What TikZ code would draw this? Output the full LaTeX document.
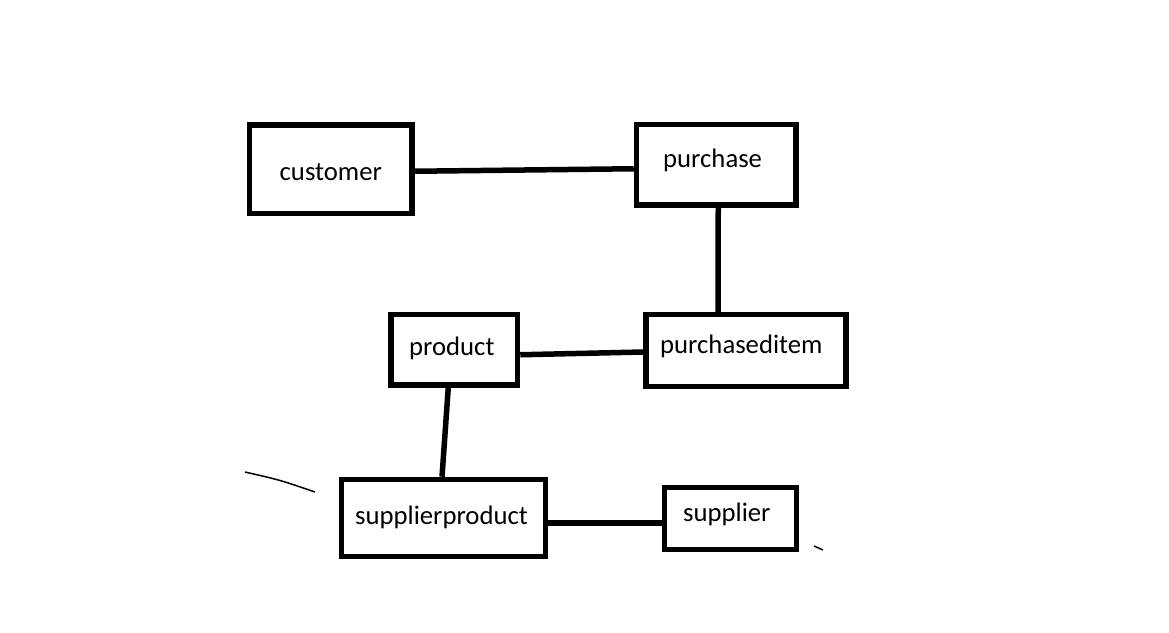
\documentclass[tikz,border=0pt]{standalone}
\usepackage{fontspec}
\setmainfont{Carlito}
\usetikzlibrary{positioning}

\begin{document}
\begin{tikzpicture}
[x=1pt,y=-1pt,
 tbl/.style={draw,line width=5.5pt,inner sep=0pt,rectangle},
 tbltext/.style={anchor=base west,inner sep=0pt,font=\fontsize{26.7}{32}\selectfont},
 link/.style={line width=5.5pt}]
\useasboundingbox[fill=white] (0,0) rectangle (1169,632);
% tables
\node[tbl,minimum width=162.5pt,minimum height=88.5pt](customer) at (330.75,169.25){};
\node[tbl,minimum width=159.5pt,minimum height=80.5pt](purchase) at (716.25,164.75){};
\node[tbl,minimum width=200pt,minimum height=72pt](purchaseditem) at (746,350.5){};
\node[tbl,minimum width=126.5pt,minimum height=70.5pt](product) at (454.25,349.75){};
\node[tbl,minimum width=204pt,minimum height=77pt](supplierproduct) at (443.5,518){};
\node[tbl,minimum width=132pt,minimum height=62pt](supplier) at (730.5,518.5){};
% names
\node[tbltext](customer-t) at (279.5,180.7){customer};
\node[tbltext](purchase-t) at (663,167.3){purchase};
\node[tbltext](purchaseditem-t) at (660,353.3){purchaseditem};
\node[tbltext](product-t) at (409,355){product};
\node[tbltext](supplierproduct-t) at (355,524){supplierproduct};
\node[tbltext](supplier-t) at (683,521){supplier};
% links
\draw[link] ([yshift=-2pt]customer.east) -- ([yshift=-4pt]purchase.west);
\draw[link] ([xshift=2pt]purchase.south) -- ([xshift=-28pt]purchaseditem.north);
\draw[link] ([yshift=-5pt]product.east) -- ([yshift=-1.5pt]purchaseditem.west);
\draw[link] ([xshift=-6pt]product.south) -- ([xshift=-1.5pt]supplierproduct.north);
\draw[link] ([yshift=-5pt]supplierproduct.east) -- ([yshift=-4.5pt]supplier.west);
% stray pen marks
\draw[line width=1.5pt] (245,472) .. controls (280,480) .. (315,492);
\draw[line width=1.5pt] (814,546) -- (823,550);
\end{tikzpicture}
\end{document}
